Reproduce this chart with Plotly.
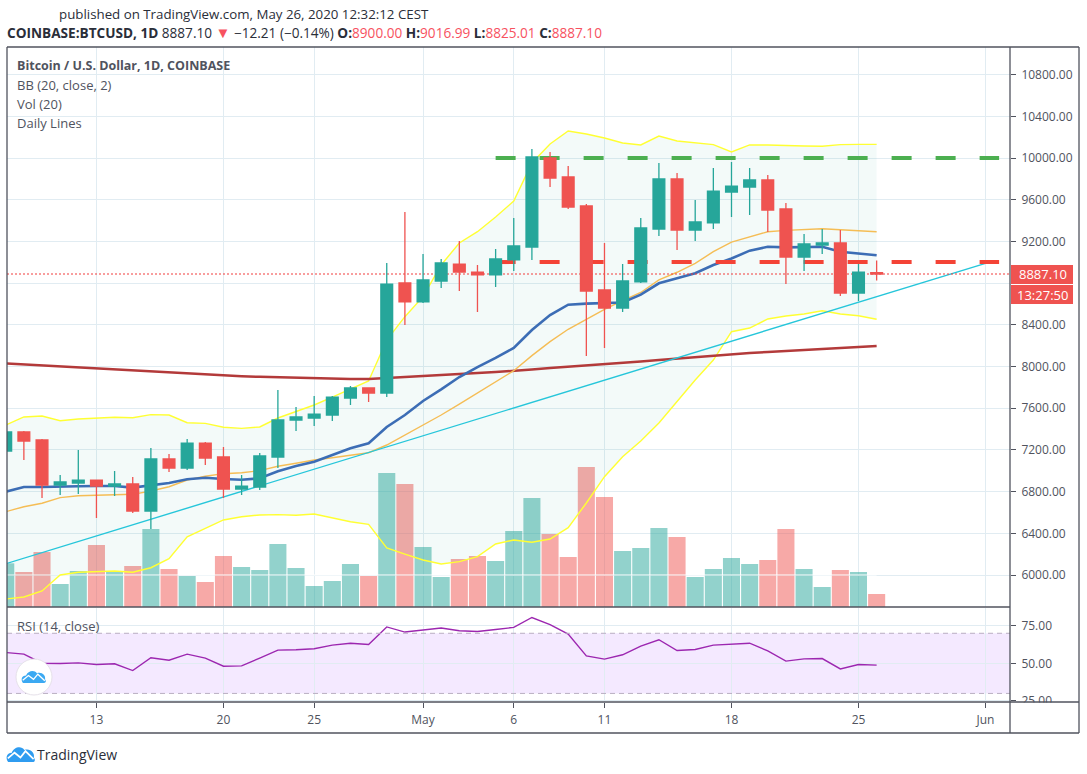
import pandas as pd
import plotly.graph_objects as go

W, H = 1087, 774
PANE_H = 767
FONT = "Open Sans"
UP, DOWN = "#26a69a", "#ef5350"
TEXT = "#50535e"
GRID = "#e1ecf2"

dates = pd.date_range("2020-04-08", "2020-05-26", freq="D").strftime("%Y-%m-%d").tolist()

opens = [7189, 7372, 7295, 6863, 6882, 6911, 6853, 6873, 6614, 7113, 7026, 7266, 7132, 6825, 6844, 7132, 7487, 7506, 7535, 7698, 7794,
         7746, 8801, 8619, 8820, 8983, 8906, 8878, 9022, 9146, 10000, 9818, 9540, 8734, 8561, 8811, 9319, 9799, 9309, 9377, 9674,
         9722, 9789, 9511, 9050, 9165, 9185, 8705, 8900]
highs = [7381, 7381, 7305, 6959, 7199, 6911, 6998, 6940, 7218, 7161, 7305, 7276, 7228, 6959, 7170, 7775, 7612, 7717, 7717, 7813, 7794,
         8993, 9482, 9079, 9031, 9204, 8974, 9127, 9424, 10086, 10057, 9923, 9559, 9185, 8983, 9424, 9952, 9856, 9597, 9904, 9962,
         9904, 9837, 9568, 9271, 9319, 9309, 8983, 9016.99]
lows = [7151, 7103, 6739, 6767, 6777, 6547, 6758, 6595, 6441, 6988, 7007, 7055, 6739, 6767, 6815, 7026, 7381, 7429, 7477, 7631, 7660,
        7708, 8398, 8609, 8753, 8724, 8523, 8763, 8916, 9022, 9722, 9511, 8101, 8178, 8523, 8801, 9252, 9118, 9204, 9319, 9434,
        9453, 9290, 8791, 8916, 9079, 8676, 8628, 8825.01]
closes = [7372, 7285, 6863, 6892, 6911, 6853, 6873, 6614, 7113, 7026, 7266, 7122, 6825, 6853, 7142, 7487, 7516, 7544, 7707, 7794, 7746,
          8791, 8619, 8830, 8993, 8906, 8878, 9031, 9156, 10010, 9808, 9530, 8724, 8561, 8820, 9329, 9799, 9309, 9386, 9683, 9731,
          9789, 9501, 9050, 9175, 9185, 8705, 8906, 8887.10]

volumes = [43.7, 35, 55, 23, 36, 62, 35, 41, 78, 38, 31, 25, 51, 40, 37, 63, 39, 21, 26, 43, 31,
           134, 123, 60, 30, 48, 51, 46, 76, 109, 73, 50, 140, 110, 56, 59, 79, 70, 30, 38, 49,
           43, 47, 78, 38, 20, 37, 35, 13]

bb_upper = [7439, 7516, 7525, 7480, 7496, 7506, 7513, 7509, 7538, 7535, 7461, 7455, 7417, 7407, 7420, 7506, 7566, 7631, 7707, 7784, 7861,
            8254, 8478, 8670, 8974, 9185, 9293, 9434, 9587, 9952, 10134, 10259, 10230, 10192, 10144, 10125, 10211, 10163, 10147, 10128, 10058,
            10125, 10125, 10118, 10115, 10112, 10128, 10131, 10131]
bb_lower = [5770, 5789, 5847, 6000, 6026, 6029, 6038, 6026, 6070, 6156, 6367, 6448, 6528, 6559, 6576, 6579, 6573, 6585, 6547, 6511, 6486,
            6259, 6201, 6144, 6106, 6128, 6176, 6298, 6336, 6314, 6345, 6454, 6691, 6943, 7135, 7285, 7458, 7662, 7871, 8062, 8334,
            8369, 8456, 8484, 8504, 8535, 8504, 8487, 8453]
bb_basis = [6799, 6844, 6844, 6844, 6851, 6854, 6854, 6838, 6863, 6883, 6918, 6933, 6921, 6914, 6928, 6995, 7046, 7087, 7151, 7215, 7263,
            7420, 7535, 7669, 7781, 7899, 7995, 8082, 8178, 8350, 8494, 8593, 8603, 8606, 8614, 8689, 8798, 8846, 8894, 8974, 9036,
            9111, 9149, 9143, 9143, 9149, 9101, 9086, 9067]
ma_short = [6607, 6655, 6688, 6742, 6761, 6767, 6770, 6774, 6806, 6847, 6911, 6947, 6972, 6981, 7001, 7043, 7072, 7103, 7125, 7151, 7173,
            7247, 7343, 7439, 7535, 7640, 7746, 7854, 7960, 8104, 8238, 8357, 8456, 8549, 8631, 8710, 8830, 8904, 8990, 9101, 9194,
            9245, 9293, 9306, 9316, 9322, 9312, 9306, 9293]
ma_long = [8030, 8020, 8011, 8001, 7991, 7982, 7972, 7963, 7953, 7943, 7934, 7924, 7915, 7907, 7901, 7896, 7892, 7887, 7883, 7880, 7879,
           7890, 7899, 7909, 7919, 7928, 7938, 7947, 7957, 7971, 7986, 7997, 8010, 8021, 8034, 8048, 8062, 8077, 8091, 8106, 8120,
           8130, 8139, 8149, 8158, 8168, 8178, 8187, 8197]
rsi = [57.2, 56.1, 50.1, 49.9, 50.3, 49.2, 49.7, 45.2, 53.7, 52.1, 56.1, 53.5, 48.1, 48.3, 53.5, 58.8, 59.0, 59.7, 62.1, 63.4, 62.5,
       74.2, 70.8, 72.3, 73.5, 71.7, 71.2, 72.5, 73.9, 80.5, 75.7, 69.5, 55.0, 52.8, 55.7, 61.5, 65.7, 58.5, 59.2, 62.1, 62.7,
       63.4, 58.3, 51.5, 53.0, 53.2, 46.3, 49.2, 48.8]

trend_dates = ["2020-04-08", "2020-06-01"]
trend_prices = [6108, 8990]
level_dates = ["2020-05-05", "2020-06-01 18:00"]
resistance = 10000
support = 9002
last_price = 8887.10
price_ticks = [6000, 6400, 6800, 7200, 7600, 8000, 8400, 8800, 9200, 9600, 10000, 10400, 10800]
price_labels = ["6000.00", "6400.00", "6800.00", "7200.00", "7600.00", "8000.00", "8400.00", "", "9200.00", "9600.00",
                "10000.00", "10400.00", "10800.00"]
rsi_ticks = [25, 50, 75]
date_ticks = ["2020-04-13", "2020-04-20", "2020-04-25", "2020-05-01", "2020-05-06", "2020-05-11",
              "2020-05-18", "2020-05-25", "2020-06-01"]
date_labels = ["13", "20", "25", "May", "6", "11", "18", "25", "Jun"]
x_view = ["2020-04-08 01:41", "2020-06-02 08:24"]
price_view = [5693.2, 11064.7]


def px(v):
    return v / W


def py(v):
    return 1 - v / PANE_H


def line_trace(x, y, color, width, yaxis="y2", dash="solid", **kw):
    return go.Scatter(x=x, y=y, mode="lines", xaxis="x", yaxis=yaxis, showlegend=False, hoverinfo="skip",
                      line=dict(color=color, width=width, dash=dash), **kw)


fig = go.Figure()

bar_colors = ["rgba(38,166,154,0.5)" if c >= o else "rgba(239,83,80,0.5)" for o, c in zip(opens, closes)]
fig.add_trace(go.Bar(x=dates, y=volumes, marker=dict(color=bar_colors, line_width=0), xaxis="x", yaxis="y",
                     showlegend=False, hoverinfo="skip"))

fig.add_trace(line_trace([dates[0], dates[-1]], [6000, 6000], "#ffffff", 1))
fig.add_trace(line_trace(dates, bb_lower, "#ffff33", 1.4))
fig.add_trace(line_trace(dates, bb_upper, "#ffff33", 1.4, fill="tonexty", fillcolor="rgba(38,166,154,0.055)"))
fig.add_trace(line_trace(dates, ma_long, "#b33a3a", 2.5))
fig.add_trace(line_trace(dates, ma_short, "#f5bd55", 1.4))
fig.add_trace(line_trace(dates, bb_basis, "#3c6db5", 2.6))
fig.add_trace(line_trace(trend_dates, trend_prices, "#26c6da", 1.4))
fig.add_trace(line_trace(level_dates, [resistance] * 2, "#4caf50", 4, dash="20px,24px"))
fig.add_trace(line_trace(level_dates, [support] * 2, "#f44336", 4, dash="20px,24px"))
fig.add_trace(line_trace([x_view[0], x_view[1]], [last_price] * 2, "#f23c3c", 1.2, dash="2px,2px"))

fig.add_trace(go.Candlestick(x=dates, open=opens, high=highs, low=lows, close=closes, xaxis="x", yaxis="y3",
                             whiskerwidth=0, showlegend=False, hoverinfo="skip",
                             increasing=dict(line=dict(color=UP, width=1.3), fillcolor=UP),
                             decreasing=dict(line=dict(color=DOWN, width=1.3), fillcolor=DOWN)))

fig.add_trace(go.Scatter(x=dates, y=rsi, mode="lines", xaxis="x2", yaxis="y4", showlegend=False, hoverinfo="skip",
                         line=dict(color="#9c27b0", width=1.4)))

shapes = [
    dict(type="rect", xref="x2", yref="y4", x0=x_view[0], x1=x_view[1], y0=30, y1=70, layer="below",
         fillcolor="rgba(153,51,255,0.11)", line_width=0),
    dict(type="line", xref="x2", yref="y4", x0=x_view[0], x1=x_view[1], y0=70, y1=70, layer="above",
         line=dict(color="#b9aec2", width=1, dash="5px,4px")),
    dict(type="line", xref="x2", yref="y4", x0=x_view[0], x1=x_view[1], y0=30, y1=30, layer="above",
         line=dict(color="#b9aec2", width=1, dash="5px,4px")),
    dict(type="rect", xref="paper", yref="paper", x0=px(1011), x1=px(1078), y0=py(733), y1=py(702.5),
         fillcolor="#ffffff", line_width=0),
    dict(type="rect", xref="paper", yref="paper", x0=px(1011), x1=px(1073), y0=py(284), y1=py(265),
         fillcolor=DOWN, line_width=0),
    dict(type="rect", xref="paper", yref="paper", x0=px(1011), x1=px(1073), y0=py(304), y1=py(285),
         fillcolor=DOWN, line_width=0),
]

for a, b, c, d in [(7, 47, 1079, 47), (7, 607, 1010, 607), (7, 702, 1079, 702), (7, 733, 1079, 733),
                   (7, 47, 7, 733), (1010, 47, 1010, 733), (1079, 47, 1079, 733)]:
    shapes.append(dict(type="line", xref="paper", yref="paper", x0=px(a), y0=py(b), x1=px(c), y1=py(d),
                       line=dict(color=TEXT, width=1.3)))


def cloud(x0, y0, w, h, color, stroke, sw):
    def P(u, v):
        return f"{px(x0 + u * w):.5f},{py(y0 + v * h):.5f}"
    body = (f"M{P(.04, 1)} C{P(-.06, .75)} {P(-.02, .42)} {P(.17, .42)} C{P(.24, .05)} {P(.52, -.05)} {P(.62, .25)} "
            f"C{P(.82, .12)} {P(1, .42)} {P(.96, .72)} C{P(1.02, .88)} {P(1, 1)} {P(.92, 1)} Z")
    zig = f"M{P(.03, .78)} L{P(.27, .42)} L{P(.48, .72)} L{P(.66, .32)} L{P(.95, .82)}"
    return [dict(type="path", xref="paper", yref="paper", path=body, fillcolor=color, line_width=0),
            dict(type="path", xref="paper", yref="paper", path=zig, line=dict(color=stroke, width=sw))]


shapes.append(dict(type="circle", xref="paper", yref="paper", x0=px(16), x1=px(52), y0=py(695), y1=py(659),
                   fillcolor="#ffffff", line=dict(color="#e6e1ea", width=1)))
shapes += cloud(22, 670, 24, 13, "#3ba9f2", "#ffffff", 1.3)
shapes += cloud(7, 746, 28, 16, "#2f9cf0", "#ffffff", 1.7)


def note(x, y, text, size=12, color=TEXT, anchor="left"):
    return dict(xref="paper", yref="paper", x=px(x - 2 if anchor == "left" else x), y=py(y), text=text, showarrow=False,
                xanchor=anchor, yanchor="middle", align=anchor, font=dict(family=FONT, size=size, color=color))


def red(t):
    return f'<span style="color:#f7525f">{t}</span>'


header = ("<b>COINBASE:BTCUSD, 1D</b> 8887.10 " + '<span style="color:#f7525f;font-size:15px">▼</span>'
          + " −12.21 (−0.14%) <b>O:</b>" + red("8900.00")
          + " <b>H:</b>" + red("9016.99") + " <b>L:</b>" + red("8825.01") + " <b>C:</b>" + red("8887.10"))
annotations = [
    note(59, 14.5, "published on TradingView.com, May 26, 2020 12:32:12 CEST", size=13.3, color="#2a2e39"),
    note(7, 32, header, size=13.6, color="#2a2e39"),
    note(17, 66, "<b>Bitcoin / U.S. Dollar, 1D, COINBASE</b>", size=12.5),
    note(17, 85, "BB (20, close, 2)", size=13),
    note(17, 104, "Vol (20)", size=13),
    note(17, 123, "Daily Lines", size=13),
    note(17, 626, "RSI (14, close)", size=13),
    note(1042.5, 274.5, "8887.10", size=13, color="#ffffff", anchor="center"),
    note(1042.5, 294.5, "13:27:50", size=13, color="#ffffff", anchor="center"),
    note(37, 754, "TradingView", size=14, color="#2a2e39"),
]

x_common = dict(type="date", range=x_view, tickmode="array", tickvals=date_ticks, showgrid=True, gridcolor=GRID,
                gridwidth=1, zeroline=False, showline=False, rangeslider=dict(visible=False))
price_dom = [py(607), py(47)]
price_axis = dict(range=price_view, domain=price_dom, overlaying="y", anchor="x", side="right", zeroline=False)

fig.update_layout(
    autosize=False,
    width=W, height=H, margin=dict(l=0, r=0, t=0, b=0, pad=0), paper_bgcolor="#ffffff", plot_bgcolor="#ffffff",
    showlegend=False, barmode="overlay", bargap=0.06, boxgap=0.35, boxgroupgap=0, hovermode=False, dragmode=False,
    font=dict(family=FONT, size=12, color=TEXT),
    xaxis=dict(domain=[px(7), px(1010)], anchor="y", ticktext=[""] * len(date_ticks), ticks="", **x_common),
    xaxis2=dict(domain=[px(7), px(1010)], anchor="y4", ticktext=date_labels, ticks="outside", ticklen=5,
                tickcolor=TEXT, tickfont=dict(family=FONT, size=12, color=TEXT), ticklabelstandoff=2, **x_common),
    yaxis=dict(domain=price_dom, range=[0, 560], showticklabels=False, showgrid=False, zeroline=False, ticks=""),
    yaxis2=dict(tickmode="array", tickvals=price_ticks, ticktext=price_labels, showgrid=True,
                gridcolor=GRID, gridwidth=1, ticks="outside", ticklen=5, tickcolor=TEXT, ticklabelstandoff=3,
                tickfont=dict(family=FONT, size=12, color=TEXT), **price_axis),
    yaxis3=dict(showticklabels=False, showgrid=False, ticks="", **price_axis),
    yaxis4=dict(domain=[py(702), py(607.7)], range=[24.3, 87], anchor="x2", side="right", zeroline=False,
                tickmode="array", tickvals=rsi_ticks, ticktext=[f"{v:.2f}" for v in rsi_ticks], showgrid=True,
                gridcolor=GRID, gridwidth=1, ticks="outside", ticklen=5, tickcolor=TEXT, ticklabelstandoff=3,
                tickfont=dict(family=FONT, size=12, color=TEXT)),
    shapes=shapes, annotations=annotations,
)

fig.write_html("out.html", config={"displayModeBar": False, "staticPlot": True},
               default_width="1087px", default_height="774px",
               post_script="document.documentElement.style.margin='0';document.body.style.margin='0';document.body.style.overflow='hidden';")
